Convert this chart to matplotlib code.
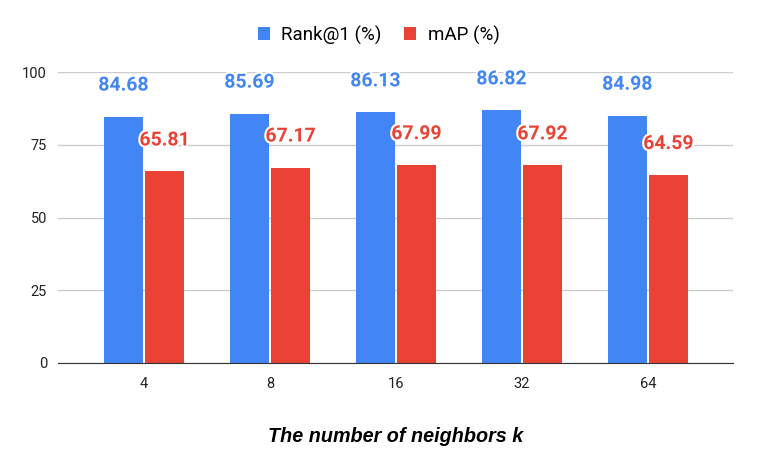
import numpy as np
import matplotlib.pyplot as plt
import matplotlib.patheffects as pe

# data
neighbors = ['4', '8', '16', '32', '64']
rank1 = [84.68, 85.69, 86.13, 86.82, 84.98]
mAP = [65.81, 67.17, 67.99, 67.92, 64.59]

blue = '#4285F4'
red = '#EA4335'

plt.rcParams['font.family'] = ['Roboto', 'DejaVu Sans']

fig = plt.figure(figsize=(7.57, 4.68), dpi=100)
ax = fig.add_axes([58 / 757, 1 - 363 / 468, 675 / 757, 291 / 468])

x = np.arange(len(neighbors))
w = 0.31
off = 0.163
b1 = ax.bar(x - off, rank1, w, color=blue, label='Rank@1 (%)', zorder=3)
b2 = ax.bar(x + off, mAP, w, color=red, label='mAP (%)', zorder=3)

outline = [pe.withStroke(linewidth=3, foreground='white')]
for xi, v in zip(x, rank1):
    ax.annotate(f'{v:.2f}', (xi - off, v), xytext=(0, 31), textcoords='offset pixels',
                ha='center', va='center', color=blue, fontsize=14, fontweight='bold',
                path_effects=outline, zorder=5)
for xi, v in zip(x, mAP):
    ax.annotate(f'{v:.2f}', (xi + off, v), xytext=(0, 31), textcoords='offset pixels',
                ha='center', va='center', color=red, fontsize=14, fontweight='bold',
                path_effects=outline, zorder=5)

ax.set_ylim(0, 100)
ax.set_xlim(-0.683, 4.675)
ax.set_yticks([0, 25, 50, 75, 100])
ax.set_xticks(x)
ax.set_xticklabels(neighbors)
ax.grid(axis='y', color='#cccccc', linewidth=1, zorder=0)
for s in ['top', 'right', 'left']:
    ax.spines[s].set_visible(False)
ax.spines['bottom'].set_color('#333333')
ax.spines['bottom'].set_zorder(4)
ax.tick_params(length=0, labelsize=10.5, colors='#222222')
ax.tick_params(axis='x', pad=10)
ax.tick_params(axis='y', pad=8)

ax.set_xlabel('The number of neighbors k', family='Liberation Sans', fontweight='bold',
              style='italic', fontsize=14.2, labelpad=26)

ax.legend(loc='center', bbox_to_anchor=(0.475, 1 + 37 / 291), ncol=2, frameon=False,
          fontsize=13.5, handlelength=0.65, handleheight=0.65, handletextpad=0.6,
          columnspacing=1.2)

fig.savefig('out.png', dpi=100)
